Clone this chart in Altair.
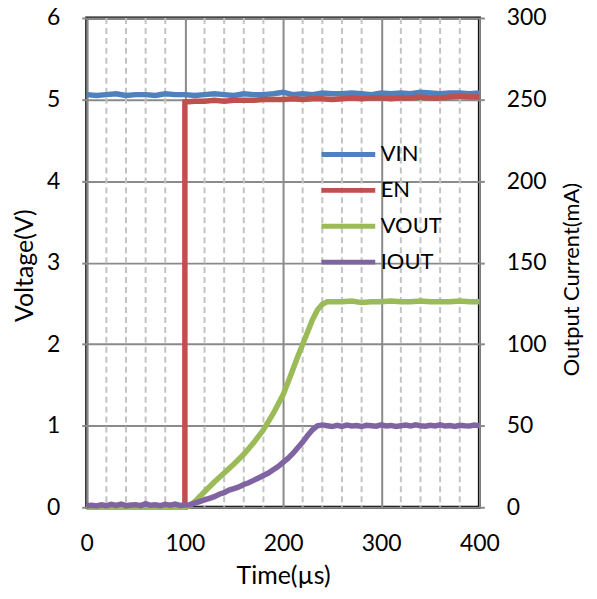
import altair as alt
import pandas as pd

# ---------------- data ----------------
SERIES = ["VIN", "EN", "VOUT", "IOUT"]
COLORS = ["#4F81BD", "#C0504D", "#9BBB59", "#8064A2"]

T_VIN = list(range(0, 401, 10))
VIN = [5.06, 5.05, 5.06, 5.07, 5.05, 5.06, 5.06, 5.05, 5.07, 5.06,
       5.06, 5.05, 5.06, 5.07, 5.06, 5.05, 5.07, 5.06, 5.06, 5.07,
       5.09, 5.06, 5.07, 5.06, 5.08, 5.07, 5.07, 5.08, 5.07, 5.06,
       5.08, 5.07, 5.08, 5.07, 5.09, 5.08, 5.07, 5.08, 5.08, 5.07, 5.08]

T_EN = [0, 100, 100, 110, 120, 130, 140, 150, 160, 170, 180, 190, 200,
        210, 220, 230, 240, 250, 260, 270, 280, 290, 300, 310, 320, 330,
        340, 350, 360, 370, 380, 390, 400]
EN = [0.0, 0.0, 4.97, 4.98, 4.98, 4.99, 4.98, 4.99, 4.99, 4.99, 5.00, 5.00,
      5.00, 5.01, 5.00, 5.01, 5.01, 5.00, 5.01, 5.02, 5.01, 5.02, 5.02, 5.01,
      5.02, 5.02, 5.03, 5.02, 5.02, 5.03, 5.04, 5.03, 5.03]

T_VOUT = [0, 100, 105, 110, 120, 130, 140, 150, 160, 170, 180, 190, 200,
          205, 210, 215, 220, 225, 230, 235, 240, 245, 250, 260, 270, 280,
          290, 300, 310, 320, 330, 340, 350, 360, 370, 380, 390, 400]
VOUT = [0.0, 0.0, 0.02, 0.07, 0.19, 0.31, 0.42, 0.53, 0.65, 0.79, 0.95, 1.15,
        1.38, 1.53, 1.69, 1.85, 2.00, 2.15, 2.30, 2.42, 2.49, 2.52, 2.52, 2.52,
        2.53, 2.51, 2.52, 2.52, 2.53, 2.52, 2.52, 2.53, 2.52, 2.52, 2.52, 2.53,
        2.52, 2.52]

T_IOUT = list(range(0, 401, 5))
IOUT = [1.0, 1.2, 0.8, 1.5, 1.0, 1.8, 1.2, 2.0, 1.0, 1.4, 1.6, 1.0, 2.2, 1.2,
        1.5, 1.0, 1.8, 1.3, 2.0, 1.1, 1.4, 1.6,
        2.5, 3.5, 4.5, 5.5, 6.5, 8.0, 9.0, 10.5, 11.5, 12.5, 14.0, 15.0, 16.5,
        18.0, 19.5, 21.0, 23.0, 25.0, 27.5, 30.0, 33.0, 36.5, 40.0, 44.0, 47.5,
        50.0, 50.5, 50.0, 49.5,
        50.2, 49.6, 50.4, 49.8, 50.1, 49.5, 50.3, 50.0, 49.7, 50.5, 49.9, 50.2,
        49.6, 50.0, 50.4, 49.8, 50.6, 50.0, 49.7, 50.3, 49.9, 50.5, 49.8, 50.1,
        49.6, 50.3, 50.0, 49.8, 50.4, 49.9]

X_TICKS = [0, 100, 200, 300, 400]
MINOR_X = [20, 40, 60, 80, 120, 140, 160, 180, 220, 240, 260, 280,
           320, 340, 360, 380]
V_TICKS = [0, 1, 2, 3, 4, 5, 6]
I_TICKS = [0, 50, 100, 150, 200, 250, 300]

# ---------------- tables ----------------
def frame(name, ts, vs):
    return pd.DataFrame({"t": ts, "v": vs, "series": name, "i": range(len(ts))})

df_vin = frame("VIN", T_VIN, VIN)
df_en = frame("EN", T_EN, EN)
df_vout = frame("VOUT", T_VOUT, VOUT)
df_iout = frame("IOUT", T_IOUT, IOUT)
df_minor = pd.DataFrame({"t": MINOR_X})

LABEL_SIZE = 23
x_scale = alt.Scale(domain=[0, 400], nice=False, zero=False)
v_scale = alt.Scale(domain=[0, 6], nice=False, zero=False)
i_scale = alt.Scale(domain=[0, 300], nice=False, zero=False)
color_scale = alt.Scale(domain=SERIES, range=COLORS)

x_axis = alt.Axis(values=X_TICKS, grid=True, gridColor="#8a8a8a", gridWidth=2,
                  domain=False, ticks=False, tickSize=0, labelPadding=25,
                  labelFlush=False, labelOverlap=False, title="Time(µs)",
                  titleFontSize=25, titlePadding=8)
v_axis = alt.Axis(values=V_TICKS, grid=True, gridColor="#8a8a8a", gridWidth=2,
                  domain=False, ticks=True, tickColor="#8a8a8a", tickSize=5,
                  tickWidth=2, labelPadding=22, labelFlush=False,
                  title="Voltage(V)", titleFontSize=25, titleAngle=270,
                  titleX=-62, titleY=248,
                  titleAlign="center", titleBaseline="middle")
i_axis = alt.Axis(values=I_TICKS, grid=False, domain=False, ticks=True,
                  tickColor="#8a8a8a", tickSize=5, tickWidth=2, labelPadding=22,
                  labelFlush=False, orient="right",
                  title="Output Current(mA)", titleFontSize=22, titleAngle=270,
                  titleX=92, titleY=262, titleAlign="center",
                  titleBaseline="middle")

legend = alt.Legend(orient="none", legendX=233, legendY=124, title=None,
                    symbolType="stroke", symbolSize=2916, symbolStrokeWidth=5,
                    clipHeight=26, rowPadding=10, labelFontSize=22,
                    labelOffset=3, padding=0, labelColor="black",
                    labelLimit=200)

minor = alt.Chart(df_minor).mark_rule(color="#c3c3c3", strokeWidth=2,
                                      strokeDash=[6, 4]).encode(
    x=alt.X("t:Q", scale=x_scale, axis=x_axis))


def volt_line(df):
    return alt.Chart(df).mark_line(strokeWidth=5.5).encode(
        x=alt.X("t:Q", scale=x_scale, axis=x_axis),
        y=alt.Y("v:Q", scale=v_scale, axis=v_axis),
        color=alt.Color("series:N", scale=color_scale, legend=legend),
        order=alt.Order("i:Q"))


left = alt.layer(minor, volt_line(df_vin), volt_line(df_en), volt_line(df_vout))

right = alt.Chart(df_iout).mark_line(strokeWidth=5.5).encode(
    x=alt.X("t:Q", scale=x_scale, axis=x_axis),
    y=alt.Y("v:Q", scale=i_scale, axis=i_axis),
    color=alt.Color("series:N", scale=color_scale, legend=legend),
    order=alt.Order("i:Q"))

chart = alt.layer(left, right).resolve_scale(y="independent").properties(
    width=394, height=491,
    autosize=alt.AutoSizeParams(type="none"),
    padding={"left": 79, "top": 9, "right": 110, "bottom": 83},
).configure(font="Lato").configure_view(
    stroke="black", strokeWidth=3
).configure_axis(
    labelFontSize=LABEL_SIZE, labelColor="black",
    titleColor="black", titleFontWeight="normal", labelFont="Lato",
    titleFont="Lato"
).configure_legend(labelFont="Lato")

chart.save("out.html", embed_options={"renderer": "svg", "actions": False})
